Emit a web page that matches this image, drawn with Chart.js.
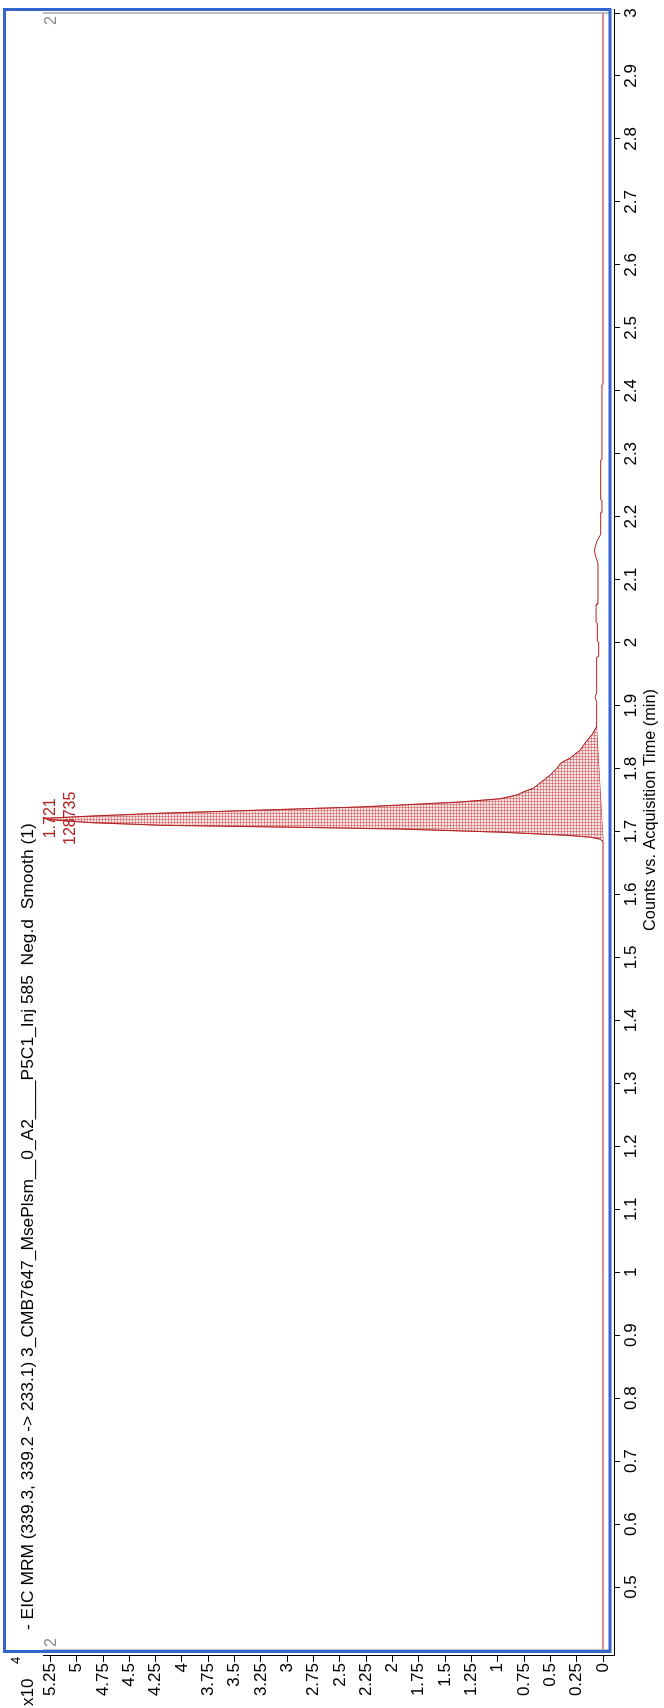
<!DOCTYPE html>
<html>
<head>
<meta charset="utf-8">
<script src="https://cdn.jsdelivr.net/npm/chart.js@4.4.1/dist/chart.umd.min.js"></script>
<style>
  html, body { margin: 0; padding: 0; background: #fff; }
  #page { position: relative; width: 664px; height: 1708px; overflow: hidden; }
  /* the chart is drawn landscape and turned a quarter turn to the left */
  #wrap { position: absolute; left: 0; top: 0; width: 1708px; height: 664px;
          transform-origin: 0 0; transform: translate(0, 1708px) rotate(-90deg); }
  #eic { display: block; width: 1708px; height: 664px; }
</style>
</head>
<body>
<div id="page"><div id="wrap"><canvas id="eic" width="1708" height="664"></canvas></div></div>
<script>
const timeMin = [0.40, 1.000, 1.680, 1.684, 1.688, 1.691, 1.694, 1.699, 1.704, 1.707,
  1.710, 1.714, 1.718, 1.721, 1.725, 1.729, 1.734, 1.739, 1.742, 1.747,
  1.752, 1.758, 1.764, 1.769, 1.777, 1.790, 1.800, 1.809, 1.817, 1.829,
  1.845, 1.855, 1.866, 1.877, 1.905, 1.914, 1.920, 1.977, 1.978, 2.001,
  2.002, 2.031, 2.032, 2.060, 2.061, 2.126, 2.137, 2.147, 2.160, 2.172,
  2.206, 2.207, 2.226, 2.227, 2.290, 2.291, 2.409, 2.410, 3.0];
const counts = [0, 0, 0, 0, 300, 1200, 3400, 9800, 19300, 30000,
  42100, 48500, 52000, 53100, 48000, 42100, 32600, 23100, 19300, 13500,
  9800, 8200, 7400, 6600, 6000, 5000, 4400, 4000, 3100, 2200,
  1500, 1000, 620, 600, 600, 750, 600, 600, 410, 410,
  540, 540, 660, 660, 480, 480, 700, 830, 600, 220,
  220, 100, 100, 220, 220, 100, 100, 0, 0];

// Línea base de integración del pico
const peakBaseTime = [1.684, 1.866];
const peakBaseCounts = [0, 620];

// Etiqueta del ápice
const apexTime = 1.721;
const apexCounts = 53100;
const apexLabels = ['1.721', '128735'];

// Límites del segmento de tiempo
const segmentBounds = [0.4, 3.0];
const segmentLabel = '2';

// Ejes
const timeRange = [0.3905, 3.0048];
const countRange = [-1044, 53200];
const timeTicks = [0.5, 0.6, 0.7, 0.8, 0.9, 1, 1.1, 1.2, 1.3, 1.4, 1.5, 1.6, 1.7, 1.8, 1.9,
  2, 2.1, 2.2, 2.3, 2.4, 2.5, 2.6, 2.7, 2.8, 2.9, 3];
const countTicks = [0, 0.25, 0.5, 0.75, 1, 1.25, 1.5, 1.75, 2, 2.25, 2.5, 2.75, 3, 3.25,
  3.5, 3.75, 4, 4.25, 4.5, 4.75, 5, 5.25];

const titleText = '- EIC MRM (339.3, 339.2 -> 233.1) 3_CMB7647_MsePlsm__0_A2____P5C1_Inj 585  Neg.d  Smooth (1)';
const xTitle = 'Counts vs. Acquisition Time (min)';

const FONT = '"Liberation Sans", Arial, sans-serif';
const RED = '#b22222';

Chart.defaults.font.family = FONT;
Chart.defaults.font.size = 17;
Chart.defaults.color = '#000';

function hatch() {
  const c = document.createElement('canvas');
  c.width = 3; c.height = 3;
  const g = c.getContext('2d');
  g.fillStyle = '#f8e6e6';
  g.fillRect(0, 0, 3, 3);
  g.fillStyle = 'rgba(200,70,70,0.5)';
  g.fillRect(0, 0, 3, 1);
  g.fillRect(0, 0, 1, 3);
  return g.createPattern(c, 'repeat');
}

const trace = timeMin.map((t, i) => ({ x: t, y: counts[i] }));
const peakArea = trace.filter(p => p.x >= peakBaseTime[0] && p.x <= peakBaseTime[1]);
const peakBase = peakBaseTime.map((t, i) => ({ x: t, y: peakBaseCounts[i] }));

const decor = {
  id: 'decor',
  afterDraw(chart) {
    const { ctx, chartArea: a, scales: { x, y } } = chart;
    ctx.save();

    // bordes del segmento
    ctx.strokeStyle = '#a8a8a8';
    ctx.lineWidth = 1.5;
    segmentBounds.forEach(t => {
      const px = x.getPixelForValue(t);
      ctx.beginPath();
      ctx.moveTo(px, a.top);
      ctx.lineTo(px, a.bottom - 3);
      ctx.stroke();
    });
    ctx.fillStyle = '#8c8c8c';
    ctx.font = '16px ' + FONT;
    ctx.textBaseline = 'top';
    ctx.textAlign = 'left';
    ctx.fillText(segmentLabel, x.getPixelForValue(segmentBounds[0]) + 3, a.top + 1);
    ctx.textAlign = 'right';
    ctx.fillText(segmentLabel, x.getPixelForValue(segmentBounds[1]) - 3, a.top + 1);

    // etiquetas del ápice
    const ax = x.getPixelForValue(apexTime);
    const ay = y.getPixelForValue(apexCounts);
    ctx.fillStyle = RED;
    ctx.textAlign = 'center';
    ctx.textBaseline = 'middle';
    ctx.fillText(apexLabels[0], ax, ay + 7);
    ctx.fillText(apexLabels[1], ax, ay + 27);

    // título y multiplicador
    ctx.fillStyle = '#000';
    ctx.textAlign = 'left';
    ctx.textBaseline = 'alphabetic';
    ctx.font = '17.4px ' + FONT;
    ctx.fillText(titleText, a.left + 26, 33);
    ctx.font = '17px ' + FONT;
    ctx.fillText('x10', 2, 33);
    ctx.font = '13px ' + FONT;
    ctx.fillText('4', 44, 20);

    // título del eje X
    ctx.font = '16.3px ' + FONT;
    ctx.textAlign = 'center';
    ctx.fillText(xTitle, (a.left + a.right) / 2 + 23, 655);

    // marco azul de selección
    ctx.strokeStyle = '#3366cc';
    ctx.lineWidth = 3;
    ctx.strokeRect(a.left + 4.5, 4.5, a.right - a.left - 4, a.bottom - 4 - 4.5);
    ctx.restore();
  }
};

new Chart(document.getElementById('eic'), {
  type: 'line',
  data: {
    datasets: [
      { data: trace, borderColor: RED, borderWidth: 1, pointRadius: 0, fill: false },
      { data: peakArea, borderColor: RED, borderWidth: 0.6, pointRadius: 0,
        backgroundColor: hatch(), fill: { target: 2 } },
      { data: peakBase, borderColor: RED, borderWidth: 1, pointRadius: 0, fill: false }
    ]
  },
  options: {
    responsive: false,
    animation: false,
    events: [],
    layout: { padding: { top: 43, right: 10, left: 0, bottom: 0 } },
    plugins: { legend: { display: false }, tooltip: { enabled: false } },
    scales: {
      x: {
        type: 'linear',
        min: timeRange[0],
        max: timeRange[1],
        afterBuildTicks: s => { s.ticks = timeTicks.map(v => ({ value: v })); },
        afterFit: s => { s.height = 50; },
        grid: { drawOnChartArea: false, drawTicks: true, tickLength: 6, color: '#000' },
        border: { display: true, color: '#000', width: 1 },
        ticks: { autoSkip: false, maxRotation: 0, padding: 1, color: '#000',
          callback: v => String(+v.toFixed(1)) }
      },
      y: {
        type: 'linear',
        min: countRange[0],
        max: countRange[1],
        afterBuildTicks: s => { s.ticks = countTicks.map(v => ({ value: v * 1e4 })); },
        afterFit: s => { s.width = 52; },
        grid: { drawOnChartArea: false, drawTicks: true, tickLength: 6, color: '#000' },
        border: { display: true, color: '#000', width: 1 },
        ticks: { autoSkip: false, padding: 1, color: '#000',
          callback: v => String(+(v / 1e4).toFixed(2)) }
      }
    }
  },
  plugins: [decor]
});
</script>
</body>
</html>
